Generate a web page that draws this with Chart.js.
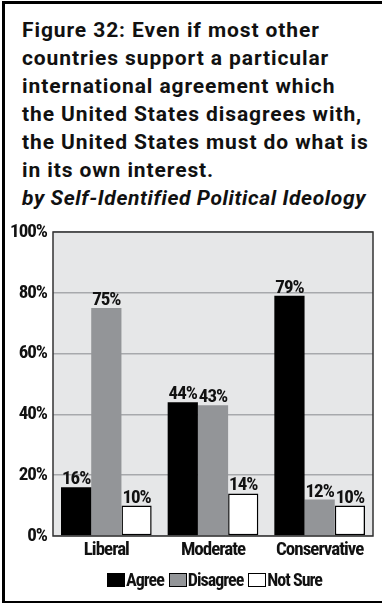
<!DOCTYPE html>
<html>
<head>
<meta charset="utf-8">
<script src="https://cdn.jsdelivr.net/npm/chart.js@4.4.0/dist/chart.umd.min.js"></script>
<style>
  html, body { margin: 0; padding: 0; background: #fff; }
  body { width: 382px; height: 603px; position: relative; overflow: hidden; }
  #frame { position: absolute; left: 2px; top: 1px; width: 400px; height: 602px; border: 3px solid #000; border-right: none; box-sizing: border-box; border-bottom-width: 2px; }
  #title { position: absolute; left: 22px; top: 16px; font-family: Roboto, "Open Sans", sans-serif; font-weight: bold; font-size: 21px; line-height: 28px; letter-spacing: 0.9px; color: #111; white-space: nowrap; }
  #title .sub { font-style: italic; letter-spacing: 0.6px; }
  #chart { position: absolute; left: 0; top: 0; }
  #legend { position: absolute; left: 107px; top: 571px; font-family: "Roboto Condensed", "Open Sans", sans-serif; font-stretch: condensed; font-weight: bold; font-size: 18px; line-height: 18px; letter-spacing: -1px; color: #111; display: flex; align-items: center; white-space: nowrap; }
  #legend .item { display: flex; align-items: center; margin-right: 5px; }
  #legend .box { width: 18px; height: 14px; box-sizing: border-box; border: 1.5px solid #000; margin-right: 1px; }
</style>
</head>
<body>
<div id="frame"></div>
<div id="title"></div>
<canvas id="chart" width="382" height="603"></canvas>
<div id="legend"></div>
<script>
const titleLines = [
  "Figure 32: Even if most other",
  "countries support a particular",
  "international agreement which",
  "the United States disagrees with,",
  "the United States must do what is",
  "in its own interest."
];
const subtitle = "by Self-Identified Political Ideology";
const categories = ["Liberal", "Moderate", "Conservative"];
const seriesNames = ["Agree", "Disagree", "Not Sure"];
const agree = [16, 44, 79];
const disagree = [75, 43, 12];
const notSure = [10, 14, 10];
const yTicks = [0, 20, 40, 60, 80, 100];

const FONT = '"Roboto Condensed", "Open Sans", sans-serif';

const t = document.getElementById('title');
titleLines.forEach(l => { const d = document.createElement('div'); d.textContent = l; t.appendChild(d); });
const s = document.createElement('div'); s.className = 'sub'; s.textContent = subtitle; t.appendChild(s);

const fills = ["#000000", "#939598", "#ffffff"];
const borders = ["#000000", "#939598", "#000000"];
const borderW = [0, 0, 1.5];
const values = [agree, disagree, notSure];

const datasets = seriesNames.map((n, i) => ({
  label: n,
  data: values[i],
  backgroundColor: fills[i],
  borderColor: borders[i],
  borderWidth: borderW[i],
  borderSkipped: false,
  categoryPercentage: 0.85,
  barPercentage: 1.0
}));

const plotBg = {
  id: 'plotBg',
  beforeDraw(chart) {
    const { ctx, chartArea: a } = chart;
    ctx.letterSpacing = '-1px';
    ctx.save();
    ctx.fillStyle = '#e6e7e8';
    ctx.fillRect(a.left, a.top, a.right - a.left, a.bottom - a.top);
    ctx.restore();
  },
  afterDatasetsDraw(chart) {
    const { ctx, chartArea: a } = chart;
    ctx.save();
    ctx.strokeStyle = '#333';
    ctx.lineWidth = 1.5;
    ctx.strokeRect(a.left, a.top, a.right - a.left, a.bottom - a.top);
    ctx.font = 'bold 19px ' + FONT;
    ctx.letterSpacing = '-1px';
    ctx.fillStyle = '#111';
    ctx.textAlign = 'center';
    ctx.textBaseline = 'alphabetic';
    chart.data.datasets.forEach((ds, di) => {
      chart.getDatasetMeta(di).data.forEach((bar, i) => {
        ctx.fillText(ds.data[i] + '%', bar.x, bar.y - 3);
      });
    });
    ctx.restore();
  },
  afterDraw(chart) { chart.ctx.letterSpacing = '0px'; }
};

new Chart(document.getElementById('chart'), {
  type: 'bar',
  data: { labels: categories, datasets },
  options: {
    responsive: false,
    animation: false,
    layout: { padding: { top: 232, right: 9, left: 0, bottom: 0 } },
    plugins: { legend: { display: false }, tooltip: { enabled: false } },
    scales: {
      x: {
        grid: { display: false, drawTicks: false },
        border: { display: false },
        ticks: { color: '#111', font: { family: FONT, size: 19, weight: 'bold' }, padding: 3, maxRotation: 0 },
        afterFit(scale) { scale.height = 67; }
      },
      y: {
        min: 0, max: 100,
        afterBuildTicks(scale) { scale.ticks = yTicks.map(v => ({ value: v })); },
        grid: { color: '#a7a9ac', lineWidth: 1.5, drawTicks: false },
        border: { display: false },
        ticks: { color: '#111', font: { family: FONT, size: 19, weight: 'bold' }, padding: 6, callback: v => v + '%' },
        afterFit(scale) { scale.width = 53; }
      }
    }
  },
  plugins: [plotBg]
});

const lg = document.getElementById('legend');
seriesNames.forEach((n, i) => {
  const it = document.createElement('div'); it.className = 'item';
  const b = document.createElement('div'); b.className = 'box'; b.style.background = fills[i];
  const tx = document.createElement('span'); tx.textContent = n;
  it.appendChild(b); it.appendChild(tx); lg.appendChild(it);
});
</script>
</body>
</html>
